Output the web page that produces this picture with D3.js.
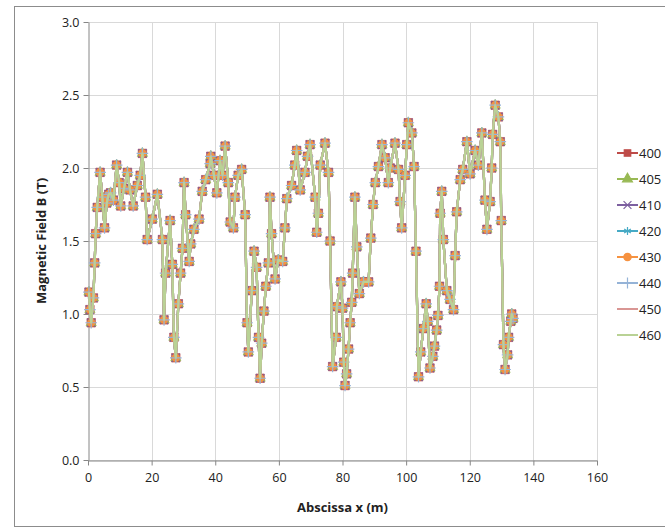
<!DOCTYPE html>
<html>
<head>
<meta charset="utf-8">
<script src="https://cdn.jsdelivr.net/npm/d3@7"></script>
<style>
  body { margin: 0; background: #fff; }
  text { font-family: 'Open Sans', 'Liberation Sans', sans-serif; }
</style>
</head>
<body>
<svg width="665" height="531"></svg>
<script>
// readings (all 8 series overlap, so they share the same values)
const abscissa = [0.3, 0.6, 1.0, 1.7, 2.1, 2.4, 2.9, 3.8, 4.5, 5.2, 5.9, 6.5, 7.1, 8.0, 9.0, 9.8, 10.3, 11.3, 12.4, 13.2,
  14.2, 15.5, 16.4, 17.1, 18.1, 18.6, 20.2, 21.8, 23.4, 23.9, 24.4, 25.8, 26.5, 27.0, 27.6, 28.4, 29.1, 29.7, 30.2, 30.7,
  31.8, 32.3, 33.3, 34.9, 35.9, 37.0, 38.4, 38.6, 39.6, 40.5, 41.5, 42.3, 43.1, 44.1, 44.7, 45.7, 46.2, 47.2, 48.3, 49.4,
  50.0, 50.4, 51.5, 52.2, 53.0, 53.6, 54.1, 54.6, 55.3, 55.9, 56.7, 57.2, 57.7, 58.8, 59.8, 61.2, 61.9, 62.5, 64.0, 65.0,
  65.6, 66.7, 68.2, 69.0, 69.8, 71.4, 71.9, 72.4, 73.0, 74.5, 75.6, 76.1, 76.9, 78.0, 78.2, 79.5, 80.0, 80.4, 80.8, 81.3,
  81.9, 82.4, 82.9, 83.2, 83.9, 84.5, 85.3, 86.6, 88.2, 88.9, 89.6, 90.3, 91.3, 92.4, 93.4, 94.4, 95.0, 96.5, 97.6, 98.1,
  98.6, 99.7, 100.2, 100.7, 101.8, 102.5, 103.1, 103.9, 104.6, 105.4, 106.3, 106.8, 107.5, 108.4, 108.9, 109.6, 110.0, 110.5, 110.7, 111.2,
  111.7, 112.8, 113.8, 114.9, 115.4, 115.9, 117.0, 117.8, 119.1, 120.1, 121.7, 122.7, 123.8, 124.8, 125.4, 126.4, 126.9, 127.2, 128.0, 129.0,
  129.6, 129.9, 130.6, 131.1, 131.9, 132.2, 132.9, 133.2, 133.6]
const fieldB = [1.15, 1.03, 0.94, 1.11, 1.35, 1.55, 1.73, 1.97, 1.80, 1.59, 1.76, 1.82, 1.83, 1.78, 2.02, 1.90, 1.74, 1.86, 1.97, 1.85,
  1.74, 1.88, 1.95, 2.10, 1.80, 1.51, 1.65, 1.82, 1.51, 0.96, 1.28, 1.64, 1.34, 0.84, 0.70, 1.07, 1.28, 1.45, 1.90, 1.68,
  1.36, 1.48, 1.58, 1.65, 1.84, 1.92, 2.03, 2.08, 1.95, 1.83, 2.05, 1.95, 2.15, 1.90, 1.63, 1.59, 1.80, 1.95, 1.99, 1.68,
  0.94, 0.74, 1.16, 1.43, 1.32, 0.84, 0.56, 0.80, 1.02, 1.19, 1.35, 1.80, 1.55, 1.24, 1.37, 1.36, 1.59, 1.79, 1.88, 2.02,
  2.12, 1.85, 1.97, 2.08, 2.16, 1.80, 1.56, 1.69, 2.02, 2.17, 1.97, 1.50, 0.64, 0.84, 1.05, 1.22, 1.04, 0.67, 0.51, 0.59,
  0.76, 0.94, 1.08, 1.28, 1.80, 1.46, 1.14, 1.22, 1.22, 1.52, 1.75, 1.90, 2.01, 2.16, 2.07, 1.90, 2.00, 2.17, 1.99, 1.77,
  1.59, 1.95, 2.16, 2.31, 2.24, 2.01, 1.43, 0.57, 0.74, 0.90, 1.07, 0.95, 0.63, 0.71, 0.78, 0.89, 0.99, 1.19, 1.69, 1.84,
  1.51, 1.16, 1.10, 1.03, 1.40, 1.70, 1.92, 1.99, 2.18, 1.96, 2.12, 2.02, 2.24, 1.78, 1.58, 1.77, 2.00, 2.23, 2.43, 2.35,
  2.18, 1.64, 0.79, 0.62, 0.72, 0.84, 0.95, 1.00, 0.97]

const seriesNames = ['400', '405', '410', '420', '430', '440', '450', '460']
const xTicks = [0, 20, 40, 60, 80, 100, 120, 140, 160]
const yTicks = [0, 0.5, 1.0, 1.5, 2.0, 2.5, 3.0]

const svg = d3.select('svg')
const margin = { top: 22, right: 68, bottom: 71, left: 88 }
const width = +svg.attr('width') - margin.left - margin.right
const height = +svg.attr('height') - margin.top - margin.bottom

// outer chart border
svg.append('rect')
  .attr('x', 14.5).attr('y', 6.5)
  .attr('width', 660).attr('height', 520)
  .attr('fill', 'none').attr('stroke', '#8c8c8c')

const x = d3.scaleLinear().domain([0, 160]).range([0, width])
const y = d3.scaleLinear().domain([0, 3]).range([height, 0])

const color = d3.scaleOrdinal()
  .domain(seriesNames)
  .range(['#be4b48', '#98b954', '#7d60a0', '#46aac5', '#f69240', '#95b3d7', '#d99694', '#b9d295'])

const markers = {
  '400': d3.symbolSquare,
  '405': d3.symbolTriangle,
  '410': d3.symbolX,
  '420': d3.symbolAsterisk,
  '430': d3.symbolCircle,
  '440': d3.symbolPlus
}

const g = svg.append('g').attr('transform', 'translate(' + margin.left + ',' + margin.top + ')')

// grid
g.selectAll('.hgrid')
  .data(yTicks)
  .enter()
  .append('line')
  .attr('x1', 0).attr('x2', width)
  .attr('y1', d => Math.round(y(d)) + 0.5).attr('y2', d => Math.round(y(d)) + 0.5)
  .attr('stroke', '#d9d9d9')

g.selectAll('.vgrid')
  .data(xTicks.slice(1))
  .enter()
  .append('line')
  .attr('y1', 0).attr('y2', height)
  .attr('x1', d => Math.round(x(d)) + 0.5).attr('x2', d => Math.round(x(d)) + 0.5)
  .attr('stroke', '#d9d9d9')

const xAxis = d3.axisBottom(x).tickValues(xTicks).tickSize(5).tickSizeOuter(0)
const yAxis = d3.axisLeft(y).tickValues(yTicks).tickSize(5).tickSizeOuter(0).tickFormat(d3.format('.1f'))

const xg = g.append('g')
  .attr('transform', 'translate(0,' + (height + 0.5) + ')')
  .call(xAxis)
const yg = g.append('g')
  .attr('transform', 'translate(0.5,0)')
  .call(yAxis)

;[xg, yg].forEach(function (a) {
  a.select('.domain').attr('stroke', '#868686')
  a.selectAll('.tick line').attr('stroke', '#868686')
  a.selectAll('.tick text').attr('fill', '#222').style('font-size', '12.5px')
})
xg.selectAll('.tick text').attr('dy', '1.05em')
yg.selectAll('.tick text').attr('x', -9)

// axis titles
svg.append('text')
  .attr('x', margin.left + width / 2)
  .attr('y', 512)
  .attr('text-anchor', 'middle')
  .style('font-size', '13px')
  .style('font-weight', 'bold')
  .attr('fill', '#222')
  .text('Abscissa x (m)')

svg.append('text')
  .attr('transform', 'translate(46,' + (margin.top + height / 2) + ') rotate(-90)')
  .attr('text-anchor', 'middle')
  .style('font-size', '13px')
  .style('font-weight', 'bold')
  .attr('fill', '#222')
  .text('Magnetic Field B (T)')

const points = abscissa.map(function (d, i) {
  return { x: d, b: fieldB[i] }
})

const line = d3.line()
  .x(d => x(d.x))
  .y(d => y(d.b))

// each series: line then its markers, later series on top
seriesNames.forEach(function (name) {
  g.append('path')
    .datum(points)
    .attr('d', line)
    .attr('fill', 'none')
    .attr('stroke', color(name))
    .attr('stroke-width', 2.2)
    .attr('stroke-linejoin', 'round')

  if (markers[name]) {
    const filled = name === '400' || name === '405' || name === '430'
    g.selectAll('.m' + name)
      .data(points)
      .enter()
      .append('path')
      .attr('transform', d => 'translate(' + x(d.x) + ',' + y(d.b) + ')')
      .attr('d', d3.symbol().type(markers[name]).size(name === '400' ? 72 : 46))
      .attr('fill', filled ? color(name) : 'none')
      .attr('stroke', color(name))
      .attr('stroke-width', filled ? 0.6 : 1.2)
  }
})

// legend (runs off the right edge, as in the original)
const legend = svg.append('g').attr('transform', 'translate(617,153)')
seriesNames.forEach(function (name, i) {
  const row = legend.append('g').attr('transform', 'translate(0,' + (i * 26) + ')')
  row.append('line')
    .attr('x1', 0).attr('x2', 21)
    .attr('stroke', color(name)).attr('stroke-width', 2)
  if (markers[name]) {
    const filled = name === '400' || name === '405' || name === '430'
    row.append('path')
      .attr('transform', 'translate(10.5,0)')
      .attr('d', d3.symbol().type(markers[name]).size(42))
      .attr('fill', filled ? color(name) : 'none')
      .attr('stroke', color(name))
      .attr('stroke-width', 1.2)
  }
  row.append('text')
    .attr('x', 22)
    .attr('dy', '0.35em')
    .style('font-size', '13px')
    .attr('fill', '#222')
    .text(name)
})
</script>
</body>
</html>
